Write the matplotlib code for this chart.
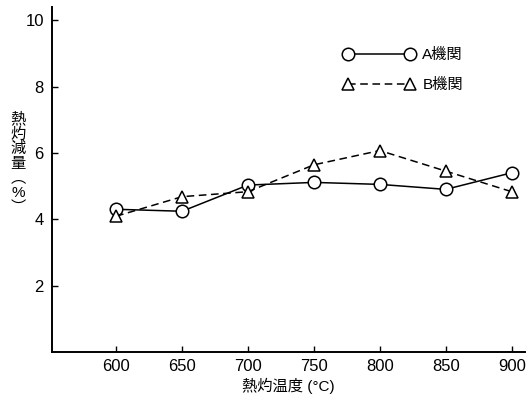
import matplotlib
matplotlib.use("Agg")
import matplotlib.pyplot as plt

plt.rcParams['font.family'] = ['Liberation Sans', 'Noto Sans CJK JP', 'DejaVu Sans']

# 熱灼温度 (°C)
temps = [600, 650, 700, 750, 800, 850, 900]
# 熱灼減量 (%)
lab_a = [4.30, 4.24, 5.03, 5.11, 5.05, 4.90, 5.40]
lab_b = [4.09, 4.68, 4.83, 5.64, 6.07, 5.45, 4.83]
yticks = [2, 4, 6, 8, 10]

fig = plt.figure(figsize=(5.27, 4.05), dpi=100)
ax = fig.add_axes([0.099, 0.131, 0.897, 0.852])

ax.plot(temps, lab_a, '-', color='black', lw=1.1, marker='o', markersize=9,
        markerfacecolor='white', markeredgecolor='black', markeredgewidth=1.1,
        label='A機関')
ax.plot(temps, lab_b, '--', color='black', lw=1.1, dashes=(5, 3), marker='^',
        markersize=9, markerfacecolor='white', markeredgecolor='black',
        markeredgewidth=1.1, label='B機関')

ax.set_xlim(551.5, 910)
ax.set_ylim(0, 10.4)
ax.set_xticks(temps)
ax.set_yticks(yticks)
ax.tick_params(direction='in', length=4, width=1, labelsize=12)
ax.tick_params(axis='x', pad=5)
ax.tick_params(axis='y', pad=6)
ax.spines['top'].set_visible(False)
ax.spines['right'].set_visible(False)
ax.spines['left'].set_linewidth(1.4)
ax.spines['bottom'].set_linewidth(1.4)

ax.set_xlabel('熱灼温度 (°C)', fontsize=11, labelpad=3)
fig.text(0.034, 0.597, '熱\n灼\n減\n量\n︵\n%\n︶', ha='center', va='center',
         fontsize=11, linespacing=1.05)

ax.legend(loc='upper left', bbox_to_anchor=(0.586, 0.92), frameon=False,
          numpoints=2, handlelength=4.7, fontsize=11, labelspacing=1.05,
          handletextpad=0.5)

fig.savefig('out.png', dpi=100)
